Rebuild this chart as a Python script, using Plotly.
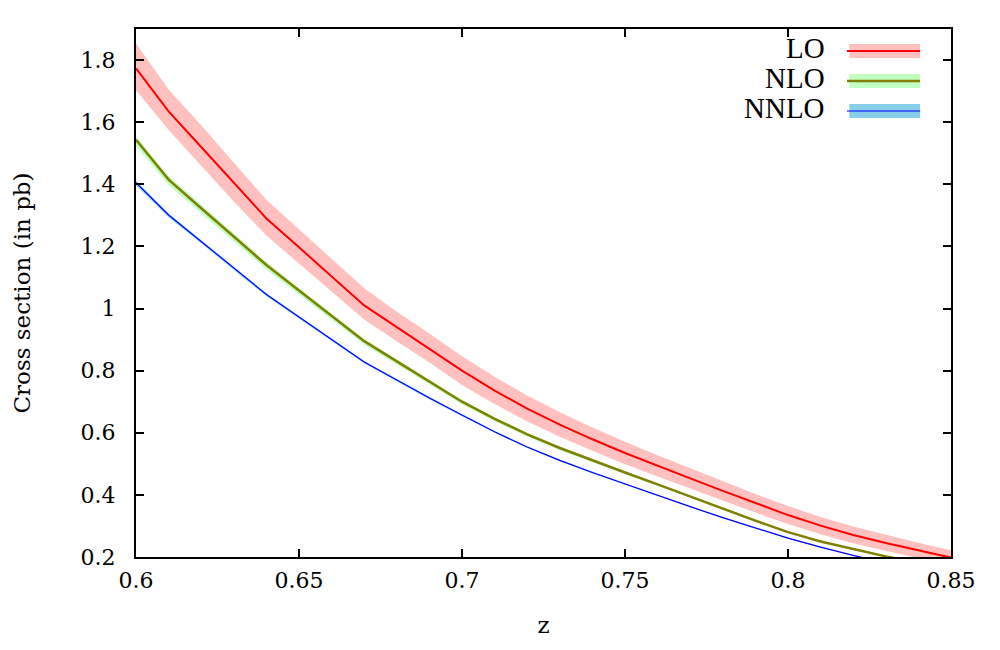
import plotly.graph_objects as go

# z values and cross sections (pb)
z = [0.60, 0.61, 0.62, 0.63, 0.64, 0.65, 0.66, 0.67, 0.68, 0.69, 0.70, 0.71, 0.72,
     0.73, 0.74, 0.75, 0.76, 0.77, 0.78, 0.79, 0.80, 0.81, 0.82, 0.83, 0.84, 0.85]

lo = [1.773, 1.635, 1.520, 1.405, 1.290, 1.197, 1.103, 1.010, 0.940, 0.870, 0.800,
      0.736, 0.678, 0.626, 0.579, 0.535, 0.493, 0.453, 0.413, 0.373, 0.335, 0.301,
      0.271, 0.245, 0.221, 0.198]
lo_up = [1.853, 1.705, 1.590, 1.470, 1.350, 1.255, 1.160, 1.065, 0.990, 0.920, 0.846,
         0.780, 0.720, 0.666, 0.617, 0.571, 0.528, 0.486, 0.445, 0.403, 0.364, 0.329,
         0.298, 0.271, 0.246, 0.222]
lo_dn = [1.703, 1.575, 1.460, 1.345, 1.235, 1.145, 1.055, 0.965, 0.895, 0.826, 0.754,
         0.693, 0.636, 0.587, 0.542, 0.499, 0.459, 0.420, 0.382, 0.343, 0.306, 0.273,
         0.244, 0.219, 0.196, 0.174]

nlo = [1.543, 1.415, 1.323, 1.232, 1.140, 1.058, 0.977, 0.895, 0.830, 0.765, 0.700,
       0.645, 0.595, 0.551, 0.511, 0.472, 0.434, 0.396, 0.356, 0.317, 0.280, 0.250,
       0.225, 0.202, 0.181, 0.160]
nlo_up = [1.555, 1.426, 1.334, 1.242, 1.149, 1.066, 0.985, 0.902, 0.837, 0.771, 0.706,
          0.650, 0.600, 0.555, 0.515, 0.476, 0.437, 0.399, 0.359, 0.320, 0.282, 0.252,
          0.227, 0.204, 0.183, 0.162]
nlo_dn = [1.524, 1.398, 1.307, 1.217, 1.126, 1.045, 0.965, 0.884, 0.820, 0.756, 0.692,
          0.637, 0.588, 0.544, 0.505, 0.466, 0.429, 0.391, 0.352, 0.313, 0.277, 0.247,
          0.222, 0.200, 0.179, 0.158]

nnlo = [1.405, 1.301, 1.216, 1.130, 1.045, 0.973, 0.900, 0.828, 0.770, 0.712, 0.657,
        0.603, 0.554, 0.511, 0.472, 0.435, 0.398, 0.362, 0.327, 0.293, 0.261, 0.232,
        0.205, 0.181, 0.159, 0.138]
nnlo_up = [1.411, 1.306, 1.220, 1.134, 1.049, 0.976, 0.903, 0.831, 0.773, 0.715, 0.659,
           0.605, 0.556, 0.513, 0.474, 0.437, 0.400, 0.363, 0.328, 0.294, 0.262, 0.233,
           0.206, 0.182, 0.160, 0.139]
nnlo_dn = [1.397, 1.294, 1.210, 1.125, 1.040, 0.968, 0.896, 0.824, 0.766, 0.708, 0.653,
           0.600, 0.551, 0.508, 0.469, 0.433, 0.396, 0.360, 0.325, 0.291, 0.259, 0.230,
           0.204, 0.180, 0.158, 0.137]

x_ticks = [0.6, 0.65, 0.7, 0.75, 0.8, 0.85]
x_labels = ["0.6", "0.65", "0.7", "0.75", "0.8", "0.85"]
y_ticks = [0.2, 0.4, 0.6, 0.8, 1.0, 1.2, 1.4, 1.6, 1.8]
y_labels = ["0.2", "0.4", "0.6", "0.8", "1", "1.2", "1.4", "1.6", "1.8"]

names = ["LO", "NLO", "NNLO"]
line_colors = ["#ff0000", "#808000", "#0000ff"]
band_colors = ["#ffc0c0", "#c0ffc0", "#87ceeb"]
line_widths = [2, 2.5, 1.2]

series = [(lo, lo_up, lo_dn), (nlo, nlo_up, nlo_dn), (nnlo, nnlo_up, nnlo_dn)]

# page body adds 8px, so margins are shifted to land the frame where the reference has it
ML, MR, MT, MB = 125, 57, 21, 101
PW = 1000 - ML - MR
PH = 650 - MT - MB

fig = go.Figure()

# bands first, then the central lines on top
for (c, up, dn), bc in zip(series, band_colors):
    fig.add_trace(go.Scatter(x=z, y=up, mode="lines", line=dict(width=0, color=bc),
                             showlegend=False, hoverinfo="skip"))
    fig.add_trace(go.Scatter(x=z, y=dn, mode="lines", line=dict(width=0, color=bc),
                             fill="tonexty", fillcolor=bc, showlegend=False,
                             hoverinfo="skip"))

for (c, up, dn), name, lc, lw in zip(series, names, line_colors, line_widths):
    fig.add_trace(go.Scatter(x=z, y=c, mode="lines", name=name,
                             line=dict(color=lc, width=lw), showlegend=False))

# gnuplot style key: text on the left, sample on the right
shapes = []
annotations = []
for i, (name, lc, bc, lw) in enumerate(zip(names, line_colors, band_colors, line_widths)):
    yc = 22 + 30 * i  # pixel row below the top of the frame
    y_paper = 1 - yc / PH
    h = 7 / PH
    x0 = 716 / PW
    x1 = 787 / PW
    shapes.append(dict(type="rect", xref="paper", yref="paper", x0=x0, x1=x1,
                       y0=y_paper - h, y1=y_paper + h, fillcolor=bc, line_width=0,
                       layer="above"))
    shapes.append(dict(type="line", xref="paper", yref="paper", x0=x0 - 0.003, x1=x1,
                       y0=y_paper, y1=y_paper, line=dict(color=lc, width=lw),
                       layer="above"))
    annotations.append(dict(xref="paper", yref="paper", x=694 / PW,
                            y=y_paper + 0.005, text=name, showarrow=False,
                            xanchor="right", yanchor="middle",
                            font=dict(family="Liberation Serif", size=29, color="black")))

fig.update_layout(
    width=1000, height=650,
    margin=dict(l=ML, r=MR, t=MT, b=MB),
    plot_bgcolor="white", paper_bgcolor="white",
    font=dict(family="DejaVu Serif", size=22, color="black"),
    shapes=shapes, annotations=annotations,
    showlegend=False,
)
fig.update_xaxes(
    range=[0.6, 0.85], tickvals=x_ticks, ticktext=x_labels,
    showgrid=False, zeroline=False,
    showline=True, linecolor="black", linewidth=2, mirror="ticks",
    ticks="inside", ticklen=8, tickwidth=2, tickcolor="black",
    ticklabelstandoff=3,
    title=dict(text="z", standoff=24, font=dict(family="DejaVu Serif", size=23)),
)
fig.update_yaxes(
    range=[0.2, 1.9], tickvals=y_ticks, ticktext=y_labels,
    showgrid=False, zeroline=False,
    showline=True, linecolor="black", linewidth=2, mirror="ticks",
    ticks="inside", ticklen=8, tickwidth=2, tickcolor="black",
    ticklabelstandoff=14,
    title=dict(text="Cross section (in pb)", standoff=44,
               font=dict(family="DejaVu Serif", size=23)),
)

fig.write_html("out.html")
